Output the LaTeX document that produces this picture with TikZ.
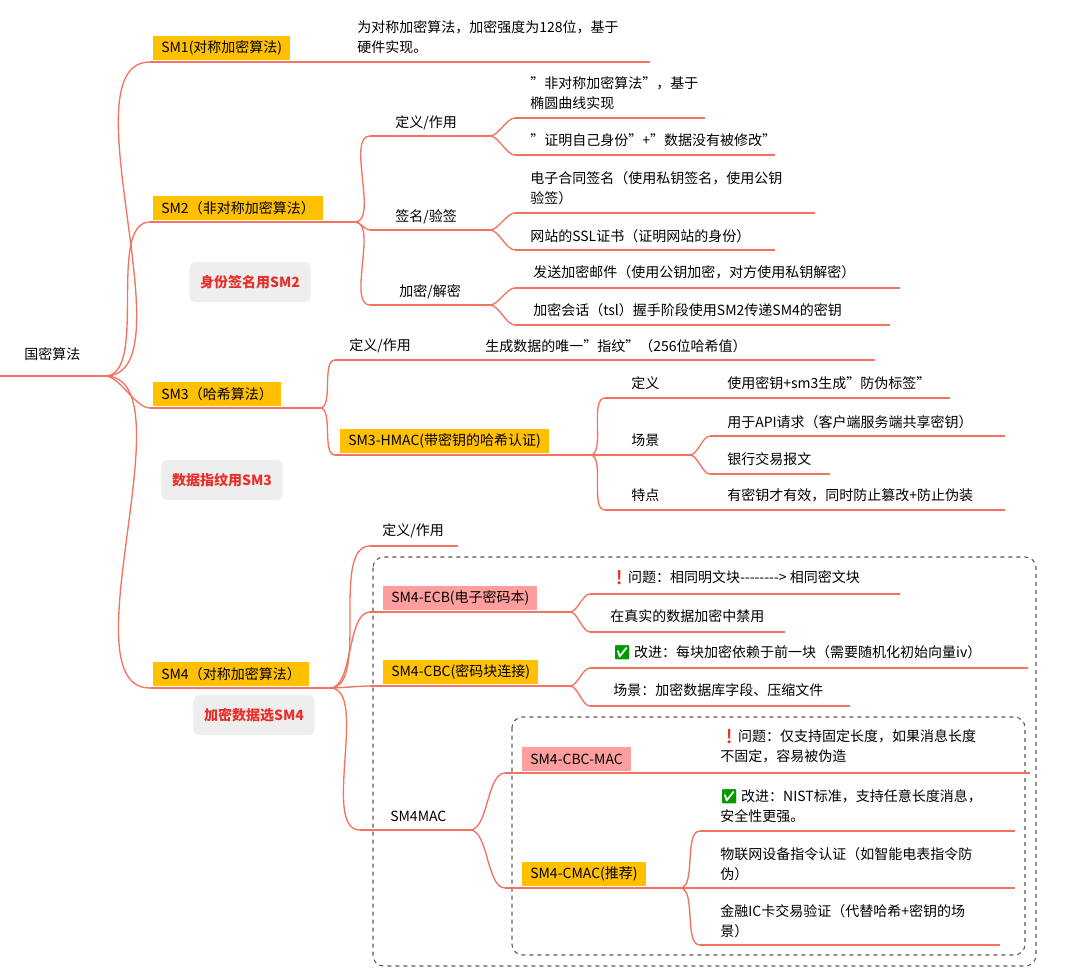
\documentclass[tikz,border=0pt]{standalone}
\usepackage{fontspec}
\setmainfont{Noto Sans CJK SC}
\newfontfamily\emo{Noto Emoji}
\definecolor{lnk}{HTML}{F2735F}
\definecolor{hly}{HTML}{FFC000}
\definecolor{hlp}{HTML}{FF9E9E}
\definecolor{tagbg}{HTML}{EEEEEE}
\definecolor{tagfg}{HTML}{E8302A}
\tikzset{
  txt/.style={anchor=west,inner sep=0pt,font=\fontsize{10.5}{15}\selectfont,align=left},
  ybox/.style={txt,fill=hly,inner xsep=6pt,minimum height=18pt},
  pbox/.style={ybox,fill=hlp},
  tagbox/.style={fill=tagbg,rounded corners=4pt,text=tagfg,font=\fontsize{10.5}{13}\selectfont\bfseries,minimum height=30pt,inner xsep=8pt},
  uline/.style={draw=lnk,line width=1pt},
  grp/.style={draw=black!65,dashed,rounded corners=8pt,line width=0.8pt}
}
% underline of a branch: name, x start, x end, y
\newcommand{\bline}[4]{\coordinate (#1-s) at (#2,#4);\coordinate (#1-e) at (#3,#4);\draw[uline] (#1-s) -- (#1-e);}
\newcommand{\blink}[2]{\draw[uline] (#1-e) to[out=0,in=180,looseness=0.7] (#2-s);}
\begin{document}
\begin{tikzpicture}[x=0.75pt,y=-0.75pt]
\useasboundingbox (0,0) rectangle (1075,979);
% groups
\draw[grp] (373,557) rectangle (1036,966);
\draw[grp] (512,717) rectangle (1025,955);
% root
\node[txt] (root) at (24,354) {国密算法};
\bline{root}{0}{105}{376}
% SM1
\node[ybox] (sm1) at (153,48) {SM1(对称加密算法)};
\bline{sm1}{150}{340}{62}
\node[txt] (sm1a) at (357,37) {为对称加密算法，加密强度为128位，基于\\硬件实现。};
\bline{sm1a}{340}{650}{62}
% SM2
\node[ybox] (sm2) at (153,208) {SM2（非对称加密算法）};
\bline{sm2}{150}{355}{222}
\node[tagbox] (tag2) at (250,282) {身份签名用SM2};
\node[txt] (def2) at (395,123) {定义/作用};
\bline{def2}{370}{490}{136}
\node[txt] (sig2) at (395,217) {签名/验签};
\bline{sig2}{370}{490}{230}
\node[txt] (enc2) at (399,292) {加密/解密};
\bline{enc2}{370}{490}{305}
\node[txt] (def2a) at (530,93) {"非对称加密算法"，基于\\椭圆曲线实现};
\bline{def2a}{515}{705}{118}
\node[txt] (def2b) at (530,140) {"证明自己身份"+"数据没有被修改"};
\bline{def2b}{515}{775}{155}
\node[txt] (sig2a) at (530,188) {电子合同签名（使用私钥签名，使用公钥\\验签）};
\bline{sig2a}{515}{815}{213}
\node[txt] (sig2b) at (530,236) {网站的SSL证书（证明网站的身份）};
\bline{sig2b}{515}{775}{250}
\node[txt] (enc2a) at (533,272) {发送加密邮件（使用公钥加密，对方使用私钥解密）};
\bline{enc2a}{515}{900}{288}
\node[txt] (enc2b) at (533,310) {加密会话（tsl）握手阶段使用SM2传递SM4的密钥};
\bline{enc2b}{515}{890}{325}
% SM3
\node[ybox] (sm3) at (153,394) {SM3（哈希算法）};
\bline{sm3}{150}{320}{408}
\node[tagbox] (tag3) at (222,480) {数据指纹用SM3};
\node[txt] (def3) at (349,346) {定义/作用};
\bline{def3}{335}{470}{360}
\node[txt] (def3a) at (485,346) {生成数据的唯一"指纹"（256位哈希值）};
\bline{def3a}{470}{875}{360}
\node[ybox] (hmac) at (340,441) {SM3-HMAC(带密钥的哈希认证)};
\bline{hmac}{335}{590}{455}
\node[txt] (hdef) at (631,383) {定义};
\bline{hdef}{605}{690}{398}
\node[txt] (hdefa) at (727,383) {使用密钥+sm3生成"防伪标签"};
\bline{hdefa}{690}{950}{398}
\node[txt] (hsc) at (631,440) {场景};
\bline{hsc}{605}{690}{455}
\node[txt] (hsca) at (727,422) {用于API请求（客户端服务端共享密钥）};
\bline{hsca}{710}{1005}{436}
\node[txt] (hscb) at (727,459) {银行交易报文};
\bline{hscb}{710}{830}{474}
\node[txt] (hft) at (631,495) {特点};
\bline{hft}{605}{690}{510}
\node[txt] (hfta) at (727,495) {有密钥才有效，同时防止篡改+防止伪装};
\bline{hfta}{690}{1005}{510}
% SM4
\node[ybox] (sm4) at (153,674) {SM4（对称加密算法）};
\bline{sm4}{150}{330}{688}
\node[tagbox] (tag4) at (254,715) {加密数据选SM4};
\node[txt] (def4) at (382,531) {定义/作用};
\bline{def4}{370}{458}{546}
\node[pbox] (ecb) at (383,598) {SM4-ECB(电子密码本)};
\bline{ecb}{370}{570}{612}
\node[txt] (ecba) at (610,578) {{\emo\textcolor{tagfg}{❗}}问题：相同明文块{-}{-}{-}{-}{-}{-}{-}{-}> 相同密文块};
\bline{ecba}{590}{900}{594}
\node[txt] (ecbb) at (610,616) {在真实的数据加密中禁用};
\bline{ecbb}{590}{785}{632}
\node[ybox] (cbc) at (383,672) {SM4-CBC(密码块连接)};
\bline{cbc}{370}{570}{686}
\node[txt] (cbca) at (613,653) {{\emo\textcolor{green!60!black}{✅}} 改进：每块加密依赖于前一块（需要随机化初始向量iv）};
\bline{cbca}{590}{1028}{668}
\node[txt] (cbcb) at (613,690) {场景：加密数据库字段、压缩文件};
\bline{cbcb}{590}{850}{706}
\node[txt] (mac) at (390,816) {SM4MAC};
\bline{mac}{360}{470}{830}
\node[pbox] (cmac0) at (522,759) {SM4-CBC-MAC};
\bline{cmac0}{505}{700}{773}
\node[txt] (cmac0a) at (720,746) {{\emo\textcolor{tagfg}{❗}}问题：仅支持固定长度，如果消息长度\\不固定，容易被伪造};
\bline{cmac0a}{700}{1030}{773}
\node[ybox] (cmac) at (522,874) {SM4-CMAC(推荐)};
\bline{cmac}{505}{680}{888}
\node[txt] (cmaca) at (720,806) {{\emo\textcolor{green!60!black}{✅}} 改进：NIST标准，支持任意长度消息，\\安全性更强。};
\bline{cmaca}{700}{1015}{831}
\node[txt] (cmacb) at (720,864) {物联网设备指令认证（如智能电表指令防\\伪）};
\bline{cmacb}{700}{1015}{888}
\node[txt] (cmacc) at (720,921) {金融IC卡交易验证（代替哈希+密钥的场\\景）};
\bline{cmacc}{700}{1000}{945}
% links
\foreach \a/\b in {root/sm1,root/sm2,root/sm3,root/sm4,sm1/sm1a,
  sm2/def2,sm2/sig2,sm2/enc2,def2/def2a,def2/def2b,sig2/sig2a,sig2/sig2b,enc2/enc2a,enc2/enc2b,
  sm3/def3,sm3/hmac,def3/def3a,hmac/hdef,hmac/hsc,hmac/hft,hdef/hdefa,hsc/hsca,hsc/hscb,hft/hfta,
  sm4/def4,sm4/ecb,sm4/cbc,sm4/mac,ecb/ecba,ecb/ecbb,cbc/cbca,cbc/cbcb,
  mac/cmac0,mac/cmac,cmac0/cmac0a,cmac/cmaca,cmac/cmacb,cmac/cmacc}
  {\blink{\a}{\b}}
\end{tikzpicture}
\end{document}
